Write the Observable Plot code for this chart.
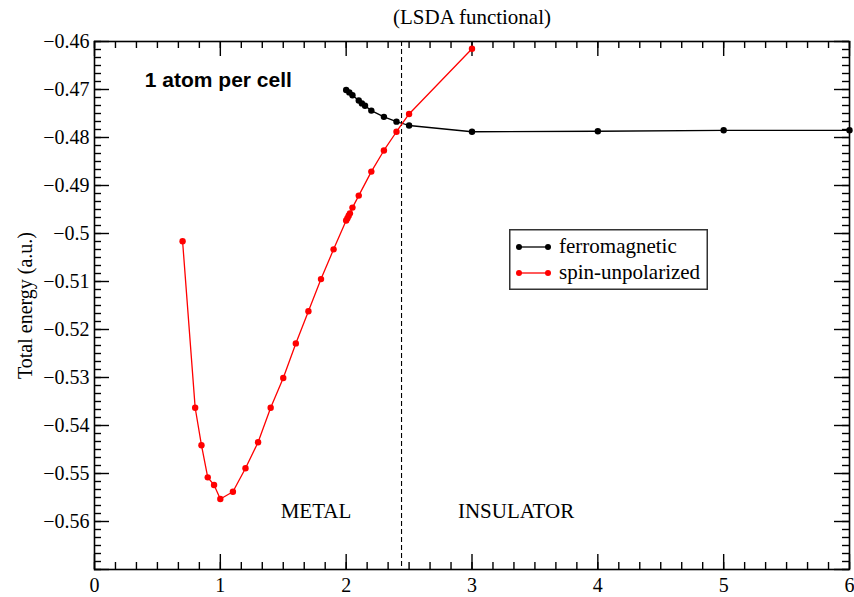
<!DOCTYPE html>
<html>
<head>
<meta charset="utf-8">
<script src="https://cdn.jsdelivr.net/npm/d3@7"></script>
<script src="https://cdn.jsdelivr.net/npm/@observablehq/plot@0.6"></script>
<style>
  body { margin: 0; background: #fff; }
  #wrap { position: relative; width: 854px; height: 597px; background: #fff; }
  #legend { position: absolute; left: 509px; top: 229px; }
</style>
</head>
<body>
<div id="wrap"></div>
<script>
// ---------- data ----------
const seriesNames = ["ferromagnetic", "spin-unpolarized"];
const seriesColors = ["#000000", "#ff0000"];

const ferroX = [2.0, 2.025, 2.05, 2.1, 2.125, 2.15, 2.2, 2.3, 2.4, 2.5, 3, 4, 5, 6];
const ferroY = [-0.4701, -0.4706, -0.4712, -0.4723, -0.4729, -0.4734, -0.4744, -0.4757, -0.4767, -0.4775, -0.4788, -0.4787, -0.4785, -0.4785];

const unpolX = [0.7, 0.8, 0.85, 0.9, 0.95, 1.0, 1.1, 1.2, 1.3, 1.4, 1.5, 1.6, 1.7, 1.8, 1.9, 2.0, 2.01, 2.02, 2.03, 2.05, 2.1, 2.2, 2.3, 2.4, 2.5, 3.0];
const unpolY = [-0.5016, -0.5363, -0.5441, -0.5508, -0.5524, -0.5553, -0.5538, -0.5489, -0.5435, -0.5363, -0.5301, -0.5229, -0.5162, -0.5095, -0.5033, -0.4973, -0.4968, -0.4963, -0.4958, -0.4946, -0.4921, -0.4871, -0.4827, -0.4788, -0.4751, -0.4615];

const xTicks = [0, 1, 2, 3, 4, 5, 6];
const yTicks = [-0.46, -0.47, -0.48, -0.49, -0.5, -0.51, -0.52, -0.53, -0.54, -0.55, -0.56];
const xDomain = [0, 6];
const yDomain = [-0.57, -0.46];
const minorDivisions = 6;

const transitionX = [2.44];
const titleText = "(LSDA functional)";
const yTitle = "Total energy (a.u.)";
const cellLabel = [{text: "1 atom per cell", x: 0.40, y: -0.4681}];
const phaseLabels = [{text: "METAL", x: 1.76, y: -0.5579}, {text: "INSULATOR", x: 3.35, y: -0.5579}];

// ---------- build ----------
const rows = [
  ...ferroX.map((x, i) => ({series: seriesNames[0], x, y: ferroY[i]})),
  ...unpolX.map((x, i) => ({series: seriesNames[1], x, y: unpolY[i]}))
];

const W = 854, H = 597, mL = 94, mR = 5, mT = 41, mB = 28;
const iW = W - mL - mR, iH = H - mT - mB;
const serif = "Liberation Serif, Times New Roman, serif";

const xMinor = d3.range(xDomain[0] * minorDivisions, xDomain[1] * minorDivisions + 1).map(k => k / minorDivisions);
const yStep = (yTicks[0] - yTicks[1]) / minorDivisions;
const yMinor = d3.range(0, Math.round((yDomain[1] - yDomain[0]) / yStep) + 1).map(k => yDomain[0] + k * yStep);
const yMajorAll = [yDomain[0], ...yTicks];

const tickW = 1.4, majLen = 15, minLen = 7;

const chart = Plot.plot({
  width: W, height: H,
  marginLeft: mL, marginRight: mR, marginTop: mT, marginBottom: mB,
  style: {fontFamily: serif, fontSize: "20px", background: "white", color: "black"},
  x: {domain: xDomain, label: null},
  y: {domain: yDomain, label: null},
  color: {domain: seriesNames, range: seriesColors},
  marks: [
    // tick marks (inward)
    Plot.ruleX(xTicks, {insetTop: iH - majLen, stroke: "black", strokeWidth: tickW}),
    Plot.ruleX(xMinor, {insetTop: iH - minLen, stroke: "black", strokeWidth: tickW}),
    Plot.ruleX(xTicks, {insetBottom: iH - majLen, stroke: "black", strokeWidth: tickW}),
    Plot.ruleX(xMinor, {insetBottom: iH - minLen, stroke: "black", strokeWidth: tickW}),
    Plot.ruleY(yMajorAll, {insetRight: iW - majLen, stroke: "black", strokeWidth: tickW}),
    Plot.ruleY(yMinor, {insetRight: iW - minLen, stroke: "black", strokeWidth: tickW}),
    Plot.ruleY(yMajorAll, {insetLeft: iW - majLen, stroke: "black", strokeWidth: tickW}),
    Plot.ruleY(yMinor, {insetLeft: iW - minLen, stroke: "black", strokeWidth: tickW}),
    // tick labels
    Plot.axisX(xTicks, {anchor: "bottom", tickSize: 0, tickPadding: 8, fontSize: 20, fontFamily: serif, tickFormat: d => String(d), label: null}),
    Plot.axisY(yTicks, {anchor: "left", tickSize: 0, tickPadding: 5, fontSize: 20, fontFamily: serif, tickFormat: d => String(d).replace("-", "\u2212"), label: null}),
    Plot.frame({stroke: "black", strokeWidth: 1.6}),
    // transition line
    Plot.ruleX(transitionX, {stroke: "black", strokeWidth: 1.1, strokeDasharray: "5,3"}),
    // series
    Plot.line(rows, {x: "x", y: "y", z: "series", stroke: "series", strokeWidth: 1.3}),
    Plot.dot(rows, {x: "x", y: "y", fill: "series", r: 3.2}),
    // texts
    Plot.text([titleText], {frameAnchor: "top", lineAnchor: "middle", textAnchor: "middle", dy: -24, fontSize: 21, fontFamily: serif, fill: "black"}),
    Plot.text([yTitle], {frameAnchor: "left", rotate: -90, textAnchor: "middle", lineAnchor: "middle", dx: -69, fontSize: 20, fontFamily: serif, fill: "black"}),
    Plot.text(cellLabel, {x: "x", y: "y", text: "text", textAnchor: "start", fontSize: 21, fontWeight: "bold", fontFamily: "Liberation Sans, Arial, sans-serif", fill: "black"}),
    Plot.text(phaseLabels, {x: "x", y: "y", text: "text", fontSize: 21, fontFamily: serif, fill: "black"})
  ]
});

const wrap = document.getElementById("wrap");
wrap.appendChild(chart);

// legend overlay
const lw = 199, lh = 61;
const legend = d3.select(wrap).append("svg")
  .attr("id", "legend").attr("width", lw).attr("height", lh);
legend.append("rect").attr("x", 0.75).attr("y", 0.75).attr("width", lw - 1.5).attr("height", lh - 1.5)
  .attr("fill", "white").attr("stroke", "#333").attr("stroke-width", 1.5);
seriesNames.forEach((name, i) => {
  const cy = 18 + i * 26;
  const g = legend.append("g");
  g.append("line").attr("x1", 10).attr("x2", 39).attr("y1", cy).attr("y2", cy)
    .attr("stroke", seriesColors[i]).attr("stroke-width", 1.3);
  [10, 39].forEach(cx => g.append("circle").attr("cx", cx).attr("cy", cy).attr("r", 3).attr("fill", seriesColors[i]));
  g.append("text").attr("x", 50).attr("y", cy + 6).text(name)
    .attr("font-family", serif).attr("font-size", 21).attr("fill", "black");
});
</script>
</body>
</html>
